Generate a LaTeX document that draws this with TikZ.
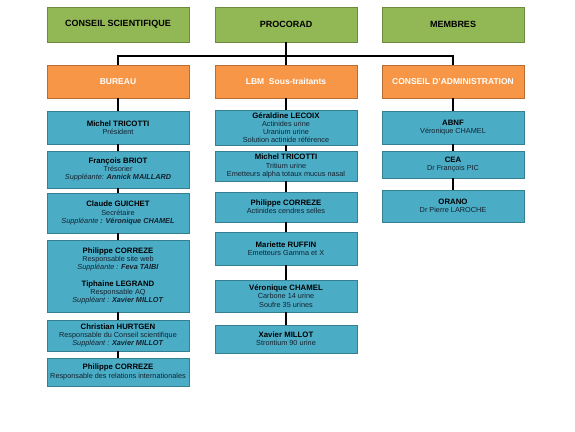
\documentclass[tikz,border=0pt]{standalone}
\usepackage{fontspec}
\setmainfont{Liberation Sans}
\definecolor{gfill}{HTML}{92B856}
\definecolor{gdraw}{HTML}{6E8A40}
\definecolor{ofill}{HTML}{F79646}
\definecolor{odraw}{HTML}{B86E33}
\definecolor{bfill}{HTML}{4BACC6}
\definecolor{bdraw}{HTML}{357F93}
\definecolor{roletxt}{HTML}{14222E}
\newcommand\nm[1]{{\fontsize{7.8}{8.2}\selectfont\bfseries\color{black}#1}}
\newcommand\supl[2]{\textit{#1}\textbf{\textit{#2}}}
\begin{document}
\begin{tikzpicture}[x=1pt,y=-1pt,
  box/.style={draw, line width=0.8pt, inner sep=1pt, align=center},
  greenbox/.style={box, fill=gfill, draw=gdraw, minimum width=142pt, minimum height=35pt, font=\bfseries\fontsize{9}{11}\selectfont},
  orangebox/.style={box, fill=ofill, draw=odraw, text=white, minimum width=142pt, minimum height=33pt, font=\bfseries\fontsize{8.5}{10}\selectfont},
  bluebox/.style={box, fill=bfill, draw=bdraw, minimum width=142pt, text=roletxt, font=\fontsize{7.3}{8.2}\selectfont},
  link/.style={draw=black, line width=1.8pt}]
\useasboundingbox (0,0) rectangle (575,431);
\fill[white] (0,0) rectangle (575,431);

% top row
\node[greenbox] (cs) at (118,24.5) {CONSEIL SCIENTIFIQUE};
\node[greenbox] (procorad) at (286,24.5) {PROCORAD};
\node[greenbox] (membres) at (453,24.5) {MEMBRES};

% second row
\node[orangebox] (bureau) at (118,81.5) {BUREAU};
\node[orangebox] (lbm) at (286,81.5) {LBM\ \ Sous-traitants};
\node[orangebox] (ca) at (453,81.5) {CONSEIL D'ADMINISTRATION};

% hub
\coordinate (hub) at (286,56);
\draw[link] (procorad.south) -- (hub);
\draw[link] (bureau.north) |- (hub) -| (ca.north);
\draw[link] (lbm.north) -- (hub);

% Bureau column
\node[bluebox, minimum height=33pt] (b1) at (118,127.5) {\nm{Michel TRICOTTI}\\Président};
\node[bluebox, minimum height=37pt] (b2) at (118,169.5) {\nm{François BRIOT}\\Trésorier\\\supl{Suppléante:}{ Annick MAILLARD}};
\node[bluebox, minimum height=40pt] (b3) at (118,213) {\nm{Claude GUICHET}\\Secrétaire\\\supl{Suppléante}{ : Véronique CHAMEL}};
\node[bluebox, minimum height=72pt] (b4) at (118,276) {\nm{Philippe CORREZE}\\Responsable site web\\\supl{Suppléante :}{ Feva TAIBI}\\[8.2pt]\nm{Tiphaine LEGRAND}\\Responsable AQ\\\supl{Suppléant :}{ Xavier MILLOT}};
\node[bluebox, minimum height=31pt] (b5) at (118,335.5) {\nm{Christian HURTGEN}\\Responsable du Conseil scientifique\\\supl{Suppléant :}{ Xavier MILLOT}};
\node[bluebox, minimum height=28pt] (b6) at (118,372) {\nm{Philippe CORREZE}\\Responsable des relations internationales};

% LBM column
\node[bluebox, minimum height=35pt] (l1) at (286,127.5) {\nm{Géraldine LECOIX}\\Actinides urine\\Uranium urine\\Solution actinide référence};
\node[bluebox, minimum height=30pt] (l2) at (286,166) {\nm{Michel TRICOTTI}\\Tritium urine\\Emetteurs alpha totaux mucus nasal};
\node[bluebox, minimum height=30pt] (l3) at (286,207) {\nm{Philippe CORREZE}\\Actinides cendres selles};
\node[bluebox, minimum height=33pt] (l4) at (286,248.5) {\nm{Mariette RUFFIN}\\Emetteurs Gamma et X};
\node[bluebox, minimum height=32pt] (l5) at (286,296) {\nm{Véronique CHAMEL}\\Carbone 14 urine\\Soufre 35 urines};
\node[bluebox, minimum height=28pt] (l6) at (286,339) {\nm{Xavier MILLOT}\\Strontium 90 urine};

% CA column
\node[bluebox, minimum height=33pt] (c1) at (453,127.5) {\nm{ABNF}\\Véronique CHAMEL};
\node[bluebox, minimum height=27pt] (c2) at (453,164.5) {\nm{CEA}\\Dr François PIC};
\node[bluebox, minimum height=32pt] (c3) at (453,206) {\nm{ORANO}\\Dr Pierre LAROCHE};

% vertical links
\draw[link] (bureau.south) -- (b1.north);
\draw[link] (b1.south) -- (b2.north);
\draw[link] (b2.south) -- (b3.north);
\draw[link] (b3.south) -- (b4.north);
\draw[link] (b4.south) -- (b5.north);
\draw[link] (b5.south) -- (b6.north);

\draw[link] (lbm.south) -- (l1.north);
\draw[link] (l1.south) -- (l2.north);
\draw[link] (l2.south) -- (l3.north);
\draw[link] (l3.south) -- (l4.north);
\draw[link] (l4.south) -- (l5.north);
\draw[link] (l5.south) -- (l6.north);

\draw[link] (ca.south) -- (c1.north);
\draw[link] (c1.south) -- (c2.north);
\draw[link] (c2.south) -- (c3.north);
\end{tikzpicture}
\end{document}
